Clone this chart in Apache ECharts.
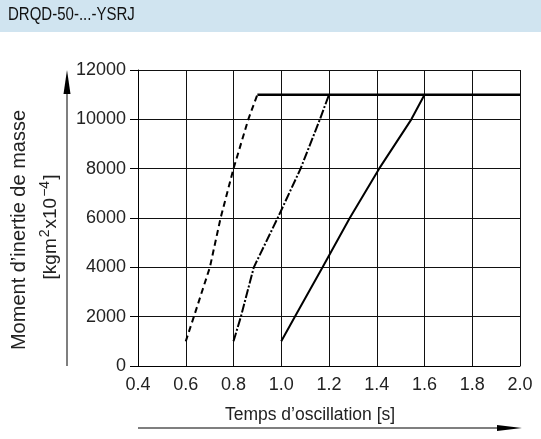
<!DOCTYPE html>
<html><head><meta charset="utf-8">
<script src="https://cdn.jsdelivr.net/npm/echarts@6/dist/echarts.min.js"></script>
<style>html,body{margin:0;padding:0;background:#fff}#c{width:541px;height:439px}</style>
</head><body><div id="c"></div>
<script>
const titleText = 'DRQD-50-...-YSRJ';
const xTitle = 'Temps d\u2019oscillation [s]';
const yTitle1 = 'Moment d\u2019inertie de masse';
const yTitle2 = '{n|[kgm}{s|2}{n|x10}{s|\u22124}{n|]}';
const xTicks = [0.4, 0.6, 0.8, 1.0, 1.2, 1.4, 1.6, 1.8, 2.0];
const yTicks = [0, 2000, 4000, 6000, 8000, 10000, 12000];

const dashedT = [0.6, 0.634, 0.701, 0.746, 0.8, 0.862, 0.9];
const dashedJ = [1000, 2000, 4000, 6000, 8000, 10000, 11000];
const dashDotT = [0.8, 0.831, 0.885, 0.985, 1.081, 1.162, 1.2];
const dashDotJ = [1000, 2000, 4000, 6000, 8000, 10000, 11000];
const solidT = [1.0, 1.057, 1.173, 1.287, 1.41, 1.545, 1.6];
const solidJ = [1000, 2000, 4000, 6000, 8000, 10000, 11000];
const plateauT = [0.9, 2.0];
const plateauJ = [11000, 11000];

const zip = (a, b) => a.map((v, i) => [v, b[i]]);
const FONT = 'Liberation Sans';

const chart = echarts.init(document.getElementById('c'), null, {renderer: 'canvas'});
chart.setOption({
  animation: false,
  backgroundColor: '#fff',
  grid: {left: 138, right: 21, top: 70, bottom: 73, containLabel: false},
  xAxis: {
    type: 'value', min: xTicks[0], max: xTicks[xTicks.length - 1], interval: 0.2,
    axisLine: {lineStyle: {color: '#000', width: 1}},
    axisTick: {show: false},
    axisLabel: {color: '#222', fontFamily: FONT, fontSize: 18, margin: 10,
      formatter: v => v.toFixed(1)},
    splitLine: {show: true, lineStyle: {color: '#111', width: 1}}
  },
  yAxis: {
    type: 'value', min: yTicks[0], max: yTicks[yTicks.length - 1], interval: 2000,
    axisLine: {show: true, lineStyle: {color: '#000', width: 1}},
    axisTick: {show: true, length: 8, lineStyle: {color: '#000'}},
    axisLabel: {color: '#222', fontFamily: FONT, fontSize: 18, margin: 12,
      formatter: v => String(v)},
    splitLine: {show: true, lineStyle: {color: '#111', width: 1}}
  },
  series: [
    {type: 'line', data: zip(dashedT, dashedJ), symbol: 'none',
      lineStyle: {color: '#000', width: 2, type: [6, 4]}},
    {type: 'line', data: zip(dashDotT, dashDotJ), symbol: 'none',
      lineStyle: {color: '#000', width: 2, type: [9, 2, 2, 2]}},
    {type: 'line', data: zip(solidT, solidJ), symbol: 'none',
      lineStyle: {color: '#000', width: 2}},
    {type: 'line', data: zip(plateauT, plateauJ), symbol: 'none',
      lineStyle: {color: '#000', width: 2.5}}
  ],
  graphic: [
    {type: 'rect', shape: {x: 0, y: 0, width: 541, height: 32}, style: {fill: '#d0e4f0'}, z: 0},
    {type: 'text', x: 8, y: 15, scaleX: 0.79,
      style: {text: titleText, font: '19px ' + FONT, fill: '#111', align: 'left', verticalAlign: 'middle'}},
    {type: 'text', x: 19, y: 230, rotation: Math.PI / 2,
      style: {text: yTitle1, font: '20px ' + FONT, fill: '#222', align: 'center', verticalAlign: 'middle'}},
    {type: 'text', x: 49, y: 227, rotation: Math.PI / 2,
      style: {text: yTitle2, fill: '#222', align: 'center', verticalAlign: 'middle',
        rich: {
          n: {fontFamily: FONT, fontSize: 19, fill: '#222', lineHeight: 22, verticalAlign: 'bottom'},
          s: {fontFamily: FONT, fontSize: 14, fill: '#222', lineHeight: 22, verticalAlign: 'top', padding: [0, 1, 0, 1]}
        }}},
    {type: 'line', shape: {x1: 67, y1: 90, x2: 67, y2: 366}, style: {stroke: '#555', lineWidth: 1.5}},
    {type: 'polygon', shape: {points: [[67, 70], [63.5, 94], [70.5, 94]]}, style: {fill: '#000'}},
    {type: 'text', x: 310, y: 415,
      style: {text: xTitle, font: '17.5px ' + FONT, fill: '#222', align: 'center', verticalAlign: 'middle'}},
    {type: 'line', shape: {x1: 138, y1: 428, x2: 500, y2: 428}, style: {stroke: '#555', lineWidth: 1.5}},
    {type: 'polygon', shape: {points: [[522, 428], [497, 425], [497, 431]]}, style: {fill: '#000'}}
  ]
});
</script></body></html>
